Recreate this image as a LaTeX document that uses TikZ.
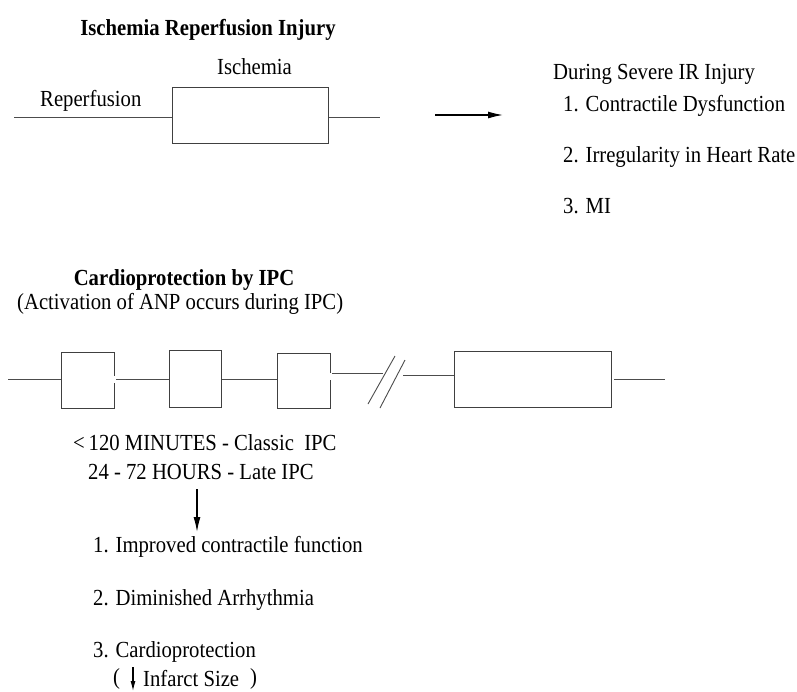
\documentclass[tikz,border=0pt]{standalone}
\usepackage{fontspec}
\setmainfont{Liberation Serif}[FakeStretch=0.9]
\usetikzlibrary{arrows.meta}
\begin{document}
\begin{tikzpicture}[x=1pt,y=-1pt,
  txt/.style={anchor=base west,inner sep=0pt,font=\fontsize{23}{27}\selectfont},
  ttl/.style={anchor=base,inner sep=0pt,font=\fontsize{23}{27}\selectfont\bfseries},
  pbox/.style={draw=black!75,line width=1pt,inner sep=0pt,anchor=north west},
  wire/.style={draw=black!70,line width=1pt},
  arr/.style={draw=black,line width=1.3pt,-{Latex[length=15pt,width=7pt]}}]
\useasboundingbox (0,0) rectangle (797,691);
% --- top section
\node[ttl] (t1) at (208,35) {Ischemia Reperfusion Injury};
\node[txt] (isch) at (217,74) {Ischemia};
\node[txt] (rep) at (40,106) {Reperfusion};
\node[pbox,minimum width=156pt,minimum height=56pt] (B0) at (172,87) {};
\coordinate (l0) at (14,117);
\coordinate (r0) at (380,117);
\draw[wire] (l0) -- (B0.west |- l0);
\draw[wire] (B0.east |- r0) -- (r0);
\coordinate (a0s) at (435,115);
\coordinate (a0e) at (503,115);
\draw[arr] (a0s) -- (a0e);
\node[txt] (during) at (553,79) {During Severe IR Injury};
\node[txt] (c1) at (563,111) {1. Contractile Dysfunction};
\node[txt] (c2) at (563,162) {2. Irregularity in Heart Rate};
\node[txt] (c3) at (563,213) {3. MI};
% --- bottom section
\node[ttl] (t2) at (184,285) {Cardioprotection by IPC};
\node[txt] (act) at (17,309) {(Activation of ANP occurs during IPC)};
\node[pbox,minimum width=53pt,minimum height=56pt] (b1) at (61,352) {};
\node[pbox,minimum width=52pt,minimum height=57pt] (b2) at (169,350) {};
\node[pbox,minimum width=53pt,minimum height=55pt] (b3) at (277,353) {};
\node[pbox,minimum width=157pt,minimum height=56pt] (b4) at (454,351) {};
% gaps in right edges
\fill[white] ([xshift=-1.5pt]b1.east |- 0,376) rectangle ([xshift=1.5pt]b1.east |- 0,383);
\fill[white] ([xshift=-1.5pt]b3.east |- 0,373) rectangle ([xshift=1.5pt]b3.east |- 0,380);
\coordinate (s0) at (8,379);
\coordinate (e4) at (665,379);
\coordinate (k1) at (383,373);
\coordinate (k2) at (403,375);
\draw[wire] (s0) -- (b1.west |- s0);
\draw[wire] ([xshift=1pt]b1.east |- 0,379) -- (b2.west |- 0,379);
\draw[wire] (b2.east |- 0,379) -- (b3.west |- 0,379);
\draw[wire] ([xshift=1pt]b3.east |- 0,373) -- (k1);
\draw[wire] (k2) -- (b4.west |- k2);
\draw[wire] ([xshift=2pt]b4.east |- e4) -- (e4);
% break slashes
\coordinate (sa1) at (368,404); \coordinate (sa2) at (395,356);
\coordinate (sb1) at (380,408); \coordinate (sb2) at (405,360);
\draw[wire,line width=0.9pt] (sa1) -- (sa2);
\draw[wire,line width=0.9pt] (sb1) -- (sb2);
\node[txt] (m1) at (73,450) {<\,120 MINUTES - Classic~ IPC};
\node[txt] (m2) at (88,479) {24 - 72 HOURS - Late IPC};
\coordinate (a1s) at (197,489);
\coordinate (a1e) at (197,532);
\draw[arr] (a1s) -- (a1e);
\node[txt] (p1) at (93,552) {1. Improved contractile function};
\node[txt] (p2) at (93,605) {2. Diminished Arrhythmia};
\node[txt] (p3) at (93,657) {3. Cardioprotection};
\node[txt] (lp) at (113,684) {(};
\coordinate (a2s) at (133,667);
\coordinate (a2e) at (133,691);
\draw[draw=black,line width=1.1pt,-{Latex[length=10pt,width=5pt]}] (a2s) -- (a2e);
\node[txt] (inf) at (143,686) {Infarct Size};
\node[txt] (rp) at (250,684) {)};
\end{tikzpicture}
\end{document}
